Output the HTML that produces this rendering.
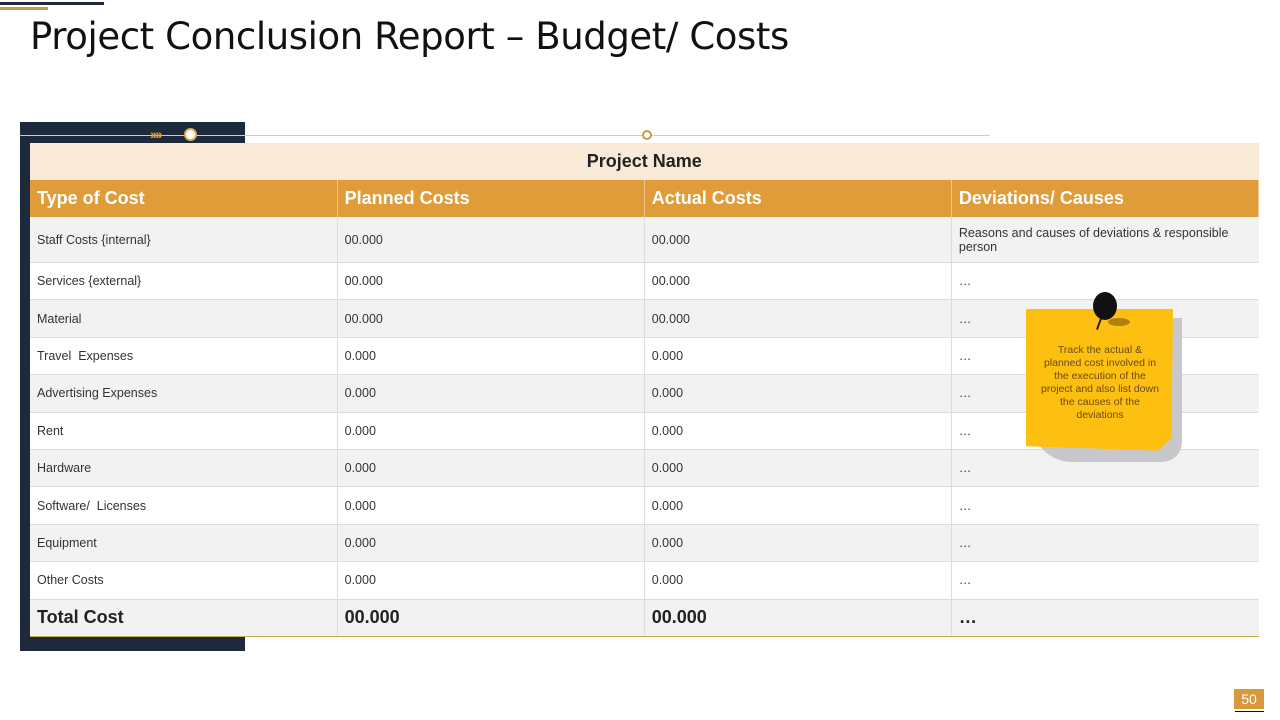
<!DOCTYPE html>
<html><head><meta charset="utf-8"><style>
body{margin:0;width:1280px;height:720px;background:#fff;position:relative;overflow:hidden;font-family:"Liberation Sans",sans-serif}
.a{position:absolute}
table{position:absolute;left:30px;top:143px;width:1229px;border-collapse:collapse;table-layout:fixed}
td{padding:0 7px;font-size:12.5px;color:#333;border-bottom:1px solid #dcdcdc;border-right:1px solid #ddd;height:36.4px;background:#fff}
td:last-child{border-right:none}
tr:nth-child(odd).r td{background:#f2f2f2}
.pn td{background:#f8ead6;text-align:center;font-weight:bold;font-size:18px;color:#222;height:37px;border:none}
.hd td{background:#e09c38;color:#fff;font-weight:bold;font-size:18px;height:37px;border-right:1px solid #f0c890;border-bottom:none}
.tot td{font-weight:bold;font-size:18px;color:#222;border-bottom:1px solid #c9a94a}
</style></head><body>
<div class="a" style="left:0;top:2px;width:104px;height:3px;background:#1e2a3a"></div>
<div class="a" style="left:0;top:7px;width:48px;height:3px;background:#c9994a"></div>
<div class="a" style="left:30px;top:15px;font-size:37px;color:#111;font-family:'DejaVu Sans',sans-serif;letter-spacing:-0.4px">Project Conclusion Report – Budget/ Costs</div>
<div class="a" style="left:20px;top:122px;width:225px;height:529px;background:#1c2a3c"></div>
<div class="a" style="left:190px;top:135px;width:800px;height:1px;background:#ccc"></div>
<div class="a" style="left:20px;top:135px;width:170px;height:1px;background:#ccc"></div>
<div class="a" style="left:150px;top:126px;color:#e0a030;font-size:14px;font-weight:bold;letter-spacing:-2px">››››</div>
<div class="a" style="left:184px;top:128px;width:13px;height:13px;border-radius:50%;background:#fff;border:2px solid #e0b050;box-sizing:border-box"></div>
<div class="a" style="left:642px;top:130px;width:10px;height:10px;border-radius:50%;background:#fff;border:2px solid #c9994a;box-sizing:border-box"></div>
<table>
<tr class="pn"><td colspan="4">Project Name</td></tr>
<tr class="hd"><td>Type of Cost</td><td>Planned Costs</td><td>Actual Costs</td><td>Deviations/ Causes</td></tr>
<tr class="r"><td style="height:45px">Staff Costs {internal}</td><td>00.000</td><td>00.000</td><td>Reasons and causes of deviations &amp; responsible person</td></tr>
<tr class="r"><td>Services {external}</td><td>00.000</td><td>00.000</td><td>…</td></tr>
<tr class="r"><td>Material</td><td>00.000</td><td>00.000</td><td>…</td></tr>
<tr class="r"><td>Travel &nbsp;Expenses</td><td>0.000</td><td>0.000</td><td>…</td></tr>
<tr class="r"><td>Advertising Expenses</td><td>0.000</td><td>0.000</td><td>…</td></tr>
<tr class="r"><td>Rent</td><td>0.000</td><td>0.000</td><td>…</td></tr>
<tr class="r"><td>Hardware</td><td>0.000</td><td>0.000</td><td>…</td></tr>
<tr class="r"><td>Software/ &nbsp;Licenses</td><td>0.000</td><td>0.000</td><td>…</td></tr>
<tr class="r"><td>Equipment</td><td>0.000</td><td>0.000</td><td>…</td></tr>
<tr class="r"><td>Other Costs</td><td>0.000</td><td>0.000</td><td>…</td></tr>
<tr class="tot r"><td>Total Cost</td><td>00.000</td><td>00.000</td><td>…</td></tr>
</table>
<div class="a" style="left:1032px;top:318px;width:150px;height:144px;background:#c8c8cc;border-radius:0 0 20px 40px"></div>
<div class="a" style="left:1026px;top:309px;width:147px;height:143px;background:#fdc010;clip-path:polygon(0 0,100% 0,99% 90%,90% 99%,0 96%)"></div>
<div class="a" style="left:1036px;top:344px;width:128px;text-align:center;font-size:10.5px;line-height:13px;color:#6b4a10">Track the actual &amp;<br>planned cost involved in<br>the execution of the<br>project and also list down<br>the causes of the<br>deviations</div>
<div class="a" style="left:1108px;top:318px;width:22px;height:8px;border-radius:50%;background:#b08010"></div>
<div class="a" style="left:1093px;top:292px;width:24px;height:28px;border-radius:50%;background:#111"></div>
<div class="a" style="left:1098px;top:318px;width:2px;height:12px;background:#222;transform:rotate(20deg)"></div>
<div class="a" style="left:1234px;top:689px;width:30px;height:20px;background:#d9993a;color:#fff;font-size:14px;text-align:center;line-height:20px">50</div>
<div class="a" style="left:1235px;top:711px;width:29px;height:1px;background:#111"></div>
</body></html>
